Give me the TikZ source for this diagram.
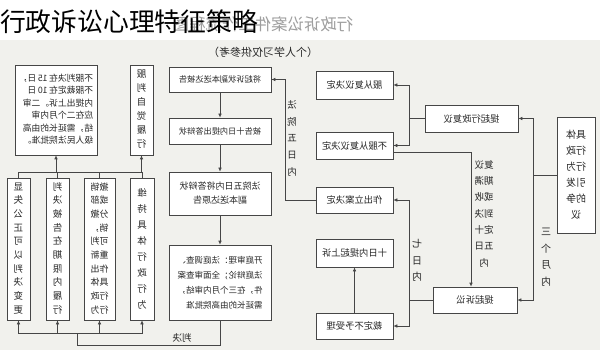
\documentclass[tikz,border=0pt]{standalone}
\usepackage{fontspec}
\setmainfont{Noto Sans CJK SC}
\usepackage{graphicx}
\usepackage{xcolor}
\usetikzlibrary{arrows.meta, positioning, calc}

\definecolor{bgpaper}{RGB}{241,241,237}
\definecolor{inkline}{RGB}{70,70,70}
\definecolor{inktext}{RGB}{40,40,40}

% mirrored text helpers (the sheet is printed flipped)
\newcommand{\flipcol}[3]{\reflectbox{\fontsize{#1}{#2}\selectfont\begin{tabular}{@{}c@{}}#3\end{tabular}}}
\newcommand{\flipleft}[3]{\reflectbox{\fontsize{#1}{#2}\selectfont\begin{tabular}{@{}l@{}}#3\end{tabular}}}
\newcommand{\flipline}[2]{\reflectbox{\fontsize{#1}{#1}\selectfont #2}}

\tikzset{
  box/.style={draw=inkline, fill=white, line width=0.7pt, inner sep=0pt, text=inktext},
  arr/.style={draw=inkline, line width=0.7pt, -{Latex[length=4pt,width=3.6pt]}},
  lnk/.style={draw=inkline, line width=0.7pt},
  lbl/.style={inner sep=0pt, text=inktext},
}

\begin{document}
\begin{tikzpicture}[x=1pt, y=-1pt]
% Canvas
\useasboundingbox (0,0) rectangle (600,350);
\fill[bgpaper] (0,0) rectangle (600,350);
\fill[white] (0,0) rectangle (600,40);

% Heading
\node[lbl, text=black!38] (wm) at (263,24) {\flipline{16.4pt}{行政诉讼案件工作流程图}};
\node[lbl, text=black, anchor=west] (title) at (0,22) {\fontsize{25.8pt}{26pt}\selectfont 行政诉讼心理特征策略};
\node[lbl] (sub) at (263,52) {\flipline{11pt}{（个人学习仅供参考）}};

% Dispute and first split
\node[box, minimum width=38pt, minimum height=116pt] (zy) at (576,175) {\flipcol{10pt}{16pt}{具体\\行政\\行为\\引发\\的争\\议}};
\node[box, minimum width=93pt, minimum height=27pt] (fy) at (471.5,118.5) {\flipline{9.3pt}{提起行政复议}};
\node[box, minimum width=84pt, minimum height=26pt] (ss) at (475,300) {\flipline{9.3pt}{提起诉讼}};
\coordinate (br1) at (533,175);
\draw[lnk] (zy.west) -- (br1);
\draw[arr] (br1) |- (fy.east);
\draw[arr] (br1) |- (ss.east);
\node[lbl] (sgy) at (546,257) {\flipcol{10pt}{16.5pt}{三\\个\\月\\内}};

% Review branch
\node[box, minimum width=77pt, minimum height=28pt] (fc) at (354.5,85) {\flipline{9.3pt}{服从复议决定}};
\node[box, minimum width=77pt, minimum height=27pt] (bf) at (354.5,145.5) {\flipline{9.3pt}{不服从复议决定}};
\coordinate (br2) at (409,118.5);
\draw[lnk] (fy.west) -- (br2);
\draw[arr] (br2) |- (fc.east);
\draw[arr] (br2) |- (bf.east);
\draw[arr] ($(bf.east)+(0,6.5)$) -| ($(ss.north)+(-4,0)$);
\node[lbl] (qx) at (484,214) {\flipcol{9.5pt}{16.3pt}{复议\\期满\\或收\\到决\\定十\\五日\\内}};

% Court filing branch
\node[box, minimum width=77pt, minimum height=26pt] (la) at (354.5,200) {\flipline{9.3pt}{作出立案决定}};
\node[box, minimum width=77pt, minimum height=28pt] (ts) at (354.5,253) {\flipline{9.3pt}{十日内提起上诉}};
\node[box, minimum width=77pt, minimum height=26pt] (bs) at (354.5,326) {\flipline{9.3pt}{裁定不予受理}};
\coordinate (br3) at (409,300);
\draw[lnk] (ss.west) -- (br3);
\draw[arr] (br3) |- (la.east);
\draw[arr] (br3) |- (bs.east);
\draw[arr] (bs.north) -- (ts.south);
\node[lbl] (qr) at (417,261) {\flipcol{10pt}{16.5pt}{七\\日\\内}};

% Trial steps
\node[box, minimum width=102pt, minimum height=25pt] (qs) at (220,79.5) {\flipline{8.2pt}{将起诉状副本送达被告}};
\node[box, minimum width=102pt, minimum height=26pt] (db) at (220,131) {\flipline{8.2pt}{被告十日内提出答辩状}};
\node[box, minimum width=102pt, minimum height=43pt] (fb) at (220,193.5) {\flipcol{9pt}{14pt}{法院五日内将答辩状\\副本送达原告}};
\node[box, minimum width=102pt, minimum height=75pt] (kt) at (220,282.5) {\flipleft{8.5pt}{15pt}{开庭审理：法庭调查、\\法庭辩论；全面审查案\\件，在三个月内审结，\\需延长的由高院批准}};
\draw[arr] (la.west) -- ++(-30,0) |- (qs.east);
\node[lbl] (fy5) at (292,138.5) {\flipcol{9.5pt}{16.7pt}{法\\院\\五\\日\\内}};
\draw[arr] (qs.south) -- (db.north);
\draw[arr] (db.south) -- (fb.north);
\draw[arr] (fb.south) -- (kt.north);

% Judgement
\node[box, minimum width=23pt, minimum height=142pt] (b1) at (18.5,249) {\flipcol{9.5pt}{13.7pt}{显\\失\\公\\正\\可\\以\\判\\决\\变\\更}};
\node[box, minimum width=23pt, minimum height=142pt] (b2) at (57.5,249) {\flipcol{9.5pt}{13.7pt}{判\\决\\被\\告\\在\\期\\限\\内\\履\\行}};
\node[box, minimum width=31pt, minimum height=142pt] (b3) at (99.5,249) {\flipcol{9pt}{13.7pt}{撤销\\或部\\分撤\\销，\\可判\\重新\\作出\\具体\\行政\\行为}};
\node[box, minimum width=24pt, minimum height=142pt] (b4) at (142,249) {\flipcol{9.5pt}{16pt}{维\\持\\具\\体\\行\\政\\行\\为}};
\coordinate (pjb) at (77,345);
\coordinate (pj) at (77,333);
\draw[lnk] (kt.south) |- (pjb) -- (pj);
\node[lbl] (pjl) at (182,338) {\flipline{9.5pt}{判决}};
\foreach \bx in {b1,b2,b3,b4}
  \draw[arr] (pj) -| (\bx.south);

% After judgement
\node[box, minimum width=82pt, minimum height=90pt] (sp) at (56,110) {\flipleft{8.8pt}{12.5pt}{不服判决在\,15\,日，\\不服裁定在\,10\,日\\内提出上诉。二审\\应在二个月内审\\结，需延长的由高\\级人民法院批准。}};
\node[box, minimum width=23pt, minimum height=90pt] (zl) at (141.5,110) {\flipcol{9.5pt}{14pt}{服\\判\\自\\觉\\履\\行}};
\coordinate (hl) at (80,172);
\draw[lnk] (b1.north) |- (hl -| b4.north) -- (b4.north);
\draw[lnk] (b2.north) -- (hl -| b2.north);
\draw[lnk] (b3.north) -- (hl -| b3.north);
\draw[arr] (hl -| sp.south) -- (sp.south);
\draw[arr] (hl -| zl.south) -- (zl.south);
\end{tikzpicture}
\end{document}
